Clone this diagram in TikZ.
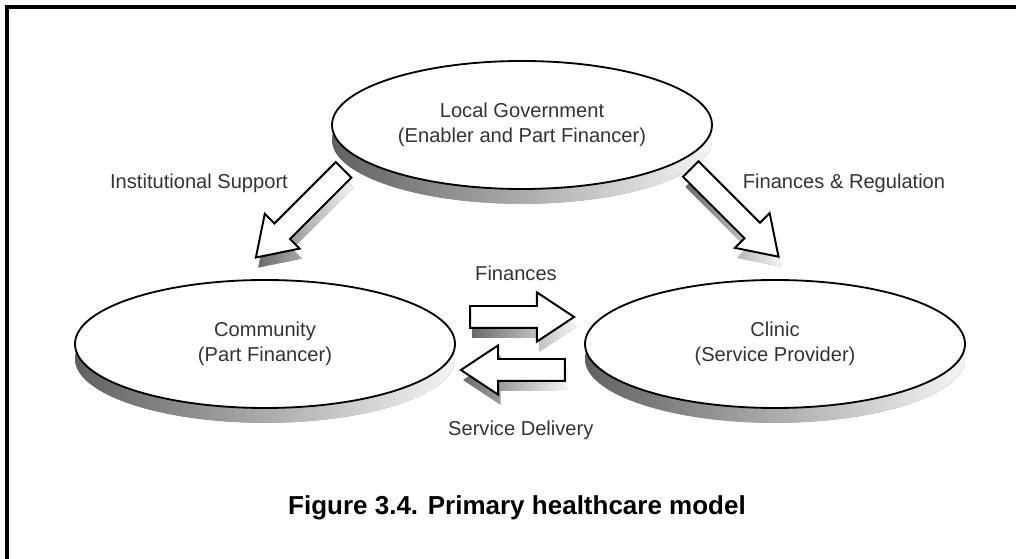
\documentclass[tikz,border=0pt]{standalone}
\usepackage{fontspec}
\setmainfont{Liberation Sans}
\usetikzlibrary{shapes.arrows,shapes.geometric,shadows}
\definecolor{txtgrey}{RGB}{51,51,51}

\begin{document}
\begin{tikzpicture}[
actor/.style = {
	ellipse,
	draw,
	line width=1.3pt,
	fill=white,
	align=center,
	text=txtgrey,
	font=\fontsize{14.3}{17.7}\selectfont,
	minimum width=9.5cm,
	minimum height=3.2cm,
	drop shadow={shadow xshift=0cm, shadow yshift=-.37cm, opacity=1, left color=black!62, right color=black!4}
	},
flow/.style = {
	single arrow,
	draw,
	line width=1.4pt,
	fill=white,
	inner xsep=0pt,
	inner ysep=.25cm,
	minimum height=2.6cm,
	single arrow head extend=.34cm,
	single arrow tip angle=67,
	drop shadow={shadow xshift=.06cm, shadow yshift=-.25cm, opacity=1, left color=black!58, right color=black!4}
	},
lbl/.style = {
	text=txtgrey,
	font=\fontsize{14.3}{17.7}\selectfont
	}
]

% FRAME
\useasboundingbox (0,0) rectangle (25.4,13.975);
\draw [line width=2.2pt] (.175,0) -- (.175,13.8) -- (25.4,13.8);

% ACTORS
\node [actor] (gov) at (13.05,10.85) {Local Government\\(Enabler and Part Financer)};
\node [actor] (comm) at (6.625,5.375) {Community\\(Part Financer)};
\node [actor] (clinic) at (19.375,5.375) {Clinic\\(Service Provider)};

% FLOWS
\node [flow, minimum height=3.1cm, rotate=225] (support) at (7.64,8.78) {};
\node [flow, minimum height=3.1cm, rotate=-45] (regul) at (18.22,8.8) {};
\node [flow] (fin) at (12.845,6.05) {};
\node [flow, rotate=180] (deliv) at (13.03,4.725) {};

% LABELS
\node [lbl] (supportLbl) at (4.975,9.4) {Institutional Support};
\node [lbl] (regulLbl) at (21.1,9.4) {Finances \& Regulation};
\node [lbl] (finLbl) at (12.9,7.15) {Finances};
\node [lbl] (delivLbl) at (13.02,3.225) {Service Delivery};

% CAPTION
\node [font=\fontsize{18.5}{22}\selectfont\bfseries] (caption) at (12.925,1.27) {Figure 3.4. Primary healthcare model};
\end{tikzpicture}
\end{document}
